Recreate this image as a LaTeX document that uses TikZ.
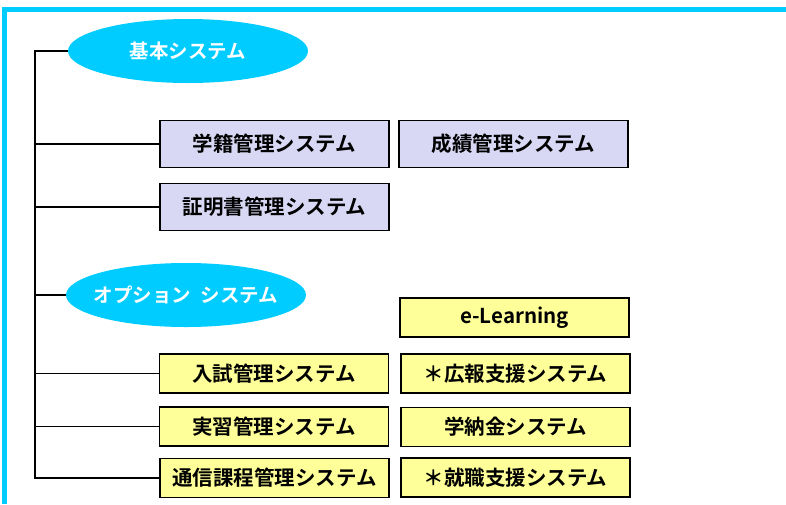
\documentclass[tikz,border=0pt]{standalone}
\usepackage{fontspec}
\newfontfamily\jpfont{Noto Sans CJK JP Bold}
\usetikzlibrary{shapes.geometric}
\definecolor{framecyan}{RGB}{0,204,255}
\definecolor{basefill}{RGB}{216,216,244}
\definecolor{optfill}{RGB}{255,255,153}
\tikzset{
  groupoval/.style={ellipse,fill=framecyan,inner xsep=-30pt,inner ysep=0pt,
    minimum width=240pt,minimum height=64pt,text=white,
    font=\jpfont\fontsize{19.5}{21}\selectfont},
  sysbox/.style={rectangle,draw=black,line width=1.4pt,inner sep=0pt,
    minimum width=229pt,minimum height=39pt,font=\jpfont\fontsize{20.5}{22}\selectfont},
  basebox/.style={sysbox,fill=basefill,minimum height=47pt},
  optbox/.style={sysbox,fill=optfill},
}
\begin{document}
\begin{tikzpicture}[x=1pt,y=-1pt]
      \useasboundingbox (0,0) rectangle (786,504);
      \draw[framecyan,line width=5pt] (4.5,504) -- (4.5,9) -- (790,9);
      \draw
        (188,51) node[groupoval] (kihon){基本システム}
        (274.5,144) node[basebox] (gakuseki){学籍管理システム}
        (513.5,144) node[basebox] (seiseki){成績管理システム}
        (274.5,207) node[basebox] (shomei){証明書管理システム}
        (186,295) node[groupoval] (option){オプション\hspace{0.5em}システム}
        (514.5,317.5) node[optbox] (elearn){e-Learning}
        (274,373.5) node[optbox] (nyushi){入試管理システム}
        (515.5,373.5) node[optbox] (koho){＊広報支援システム}
        (274,426.5) node[optbox] (jisshu){実習管理システム}
        (515.5,427) node[optbox] (gakunokin){学納金システム}
        (274.5,478) node[optbox] (tsushin){通信課程管理システム}
        (515.5,477.5) node[optbox] (shushoku){＊就職支援システム};
      \coordinate (trunk) at (35,0);
      \begin{scope}[line width=1.4pt]
        \draw (kihon.west) -| (tsushin.west -| trunk) -- (tsushin.west);
        \foreach \n in {gakuseki,shomei,option,nyushi,jisshu}
          \draw (\n.west) -- (\n.west -| trunk);
      \end{scope}
    \end{tikzpicture}
\end{document}
